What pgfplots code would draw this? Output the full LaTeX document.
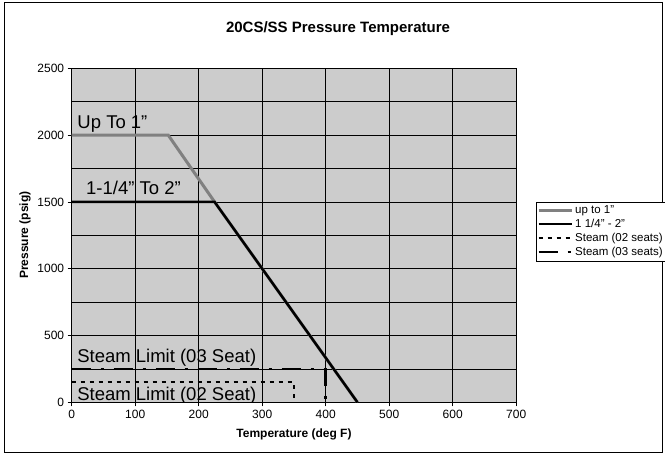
\documentclass[border=0pt]{standalone}
\usepackage{fontspec}
\setmainfont{Liberation Sans}
\usepackage{pgfplots}
\pgfplotsset{compat=1.18}
\begin{document}
\begin{tikzpicture}[x=1pt,y=1pt]
\path[use as bounding box] (-71.7,-52.7) rectangle (593.3,402.3);
\draw[black, line width=0.8pt] (-67.7,-49.7) rectangle (590.3,400.3);
\node[font=\fontsize{15}{17}\selectfont\bfseries] at (266.3,373.5) {20CS/SS Pressure Temperature};
\begin{axis}[
  at={(0,0)}, anchor=south west,
  scale only axis, width=444.5pt, height=334pt,
  xmin=0, xmax=700, ymin=0, ymax=2500,
  xtick={0,100,...,700}, ytick={0,500,...,2500},
  minor ytick={250,750,...,2250},
  xtick pos=bottom, ytick pos=left,
  grid=both,
  major grid style={black, line width=0.6pt},
  minor grid style={black, line width=0.6pt},
  axis background/.style={fill=black!20},
  axis line style={black, line width=0.6pt},
  tick align=outside, major tick length=4pt, minor tick length=0pt,
  tick style={black, line width=0.6pt},
  /pgf/number format/assume math mode=true,
  /pgf/number format/1000 sep={},
  ticklabel style={font=\fontsize{12}{14}\selectfont},
  xlabel={Temperature (deg F)}, ylabel={Pressure (psig)},
  label style={font=\fontsize{12}{14}\selectfont\bfseries},
  xlabel style={yshift=-4pt},
  legend style={at={(1.0446,0.6006)}, anchor=north west, draw=black,
    font=\fontsize{11.5}{13}\selectfont, cells={anchor=west}, inner xsep=1pt, inner ysep=2pt,
    row sep=0pt},
  legend image code/.code={\draw[#1] (0pt,0pt) -- (33pt,0pt);},
]
\addplot[color=black!50, line width=3pt] coordinates {(0,2000) (152,2000) (225,1500) (450,0)};
\addlegendentry{up to 1\symbol{34}}
\addplot[color=black, line width=2.5pt] coordinates {(0,1500) (225,1500) (450,0)};
\addlegendentry{1 1/4\symbol{34} - 2\symbol{34}}
\addplot[color=black, line width=1.6pt, dash pattern=on 4pt off 5pt] coordinates {(0,150) (350,150) (350,0)};
\addlegendentry{Steam (02 seats)}
\addplot[color=black, line width=2.6pt, dash pattern=on 19pt off 10pt on 3pt off 10pt] coordinates {(0,250) (400,250) (400,0)};
\addlegendentry{Steam (03 seats)}
\node[anchor=base west, inner sep=0pt, font=\fontsize{18.5}{20}\selectfont] at (axis cs:8.8,2051) {Up To 1”};
\node[anchor=base west, inner sep=0pt, font=\fontsize{18.5}{20}\selectfont] at (axis cs:22.5,1552) {1-1/4” To 2”};
\node[anchor=base west, inner sep=0pt, font=\fontsize{18.5}{20}\selectfont] at (axis cs:8.5,296) {Steam Limit (03 Seat)};
\node[anchor=base west, inner sep=0pt, font=\fontsize{18.5}{20}\selectfont] at (axis cs:8.5,17) {Steam Limit (02 Seat)};
\end{axis}
\end{tikzpicture}
\end{document}
